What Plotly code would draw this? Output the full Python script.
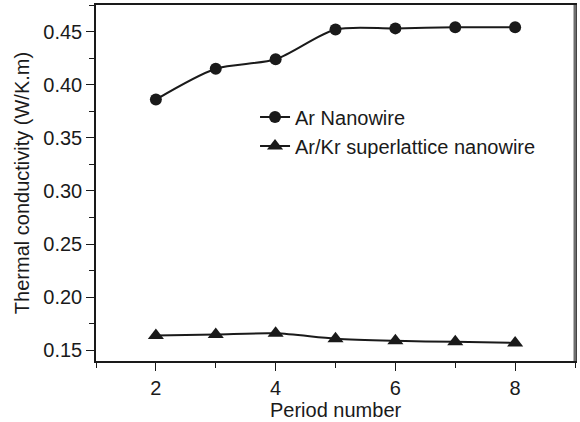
import plotly.graph_objects as go

period = [2, 3, 4, 5, 6, 7, 8]
ar_nanowire = [0.386, 0.415, 0.424, 0.452, 0.453, 0.454, 0.454]
ar_kr_superlattice = [0.164, 0.165, 0.166, 0.161, 0.159, 0.158, 0.157]

font_family = "Arial, Liberation Sans, sans-serif"
ink = "#1a1a1a"

fig = go.Figure()
fig.add_trace(go.Scatter(
    x=period, y=ar_nanowire, name="Ar Nanowire",
    mode="lines+markers",
    line=dict(color=ink, width=2, shape="spline", smoothing=0.8),
    marker=dict(symbol="circle", size=12, color=ink),
))
fig.add_trace(go.Scatter(
    x=period, y=ar_kr_superlattice, name="Ar/Kr superlattice nanowire",
    mode="lines+markers",
    line=dict(color=ink, width=2, shape="spline", smoothing=0.8),
    marker=dict(symbol="triangle-up", size=14, color=ink),
))

axis_common = dict(
    showline=True, linecolor=ink, linewidth=1.5, mirror=True,
    ticks="outside", ticklen=8, tickwidth=1.2, tickcolor=ink,
    showgrid=False, zeroline=False,
    tickfont=dict(family=font_family, size=20, color=ink),
)

fig.update_xaxes(
    range=[1, 9], tickmode="linear", tick0=2, dtick=2,
    minor=dict(ticks="outside", ticklen=5, dtick=1, tick0=1, tickcolor=ink, showgrid=False),
    **axis_common,
)
fig.update_yaxes(
    range=[0.14, 0.475], tickmode="linear", tick0=0.15, dtick=0.05, tickformat=".2f",
    minor=dict(ticks="outside", ticklen=5, dtick=0.025, tick0=0.15, tickcolor=ink, showgrid=False),
    title=dict(text="Thermal conductivity (W/K.m)", font=dict(family=font_family, size=20, color=ink), standoff=8),
    **axis_common,
)

fig.update_layout(
    width=580, height=422,
    margin=dict(l=95.5, r=3, t=5, b=61),
    plot_bgcolor="white", paper_bgcolor="white",
    showlegend=True,
    legend=dict(
        x=0.332, y=0.74, xanchor="left", yanchor="top",
        bgcolor="rgba(0,0,0,0)", borderwidth=0,
        font=dict(family=font_family, size=20, color=ink),
        tracegroupgap=0,
    ),
    shapes=[dict(type="line", xref="paper", yref="paper", x0=1, x1=1, y0=0, y1=1,
                 line=dict(color="#6e6e6e", width=3))],
    annotations=[dict(text="Period number", xref="paper", yref="paper",
                      x=0.5, y=-0.137, xanchor="center", yanchor="middle",
                      showarrow=False, font=dict(family=font_family, size=20, color=ink))],
)

fig.write_html(
    "out.html",
    config=dict(displayModeBar=False),
    post_script="document.body.style.margin='0';document.body.style.overflow='hidden';",
)
